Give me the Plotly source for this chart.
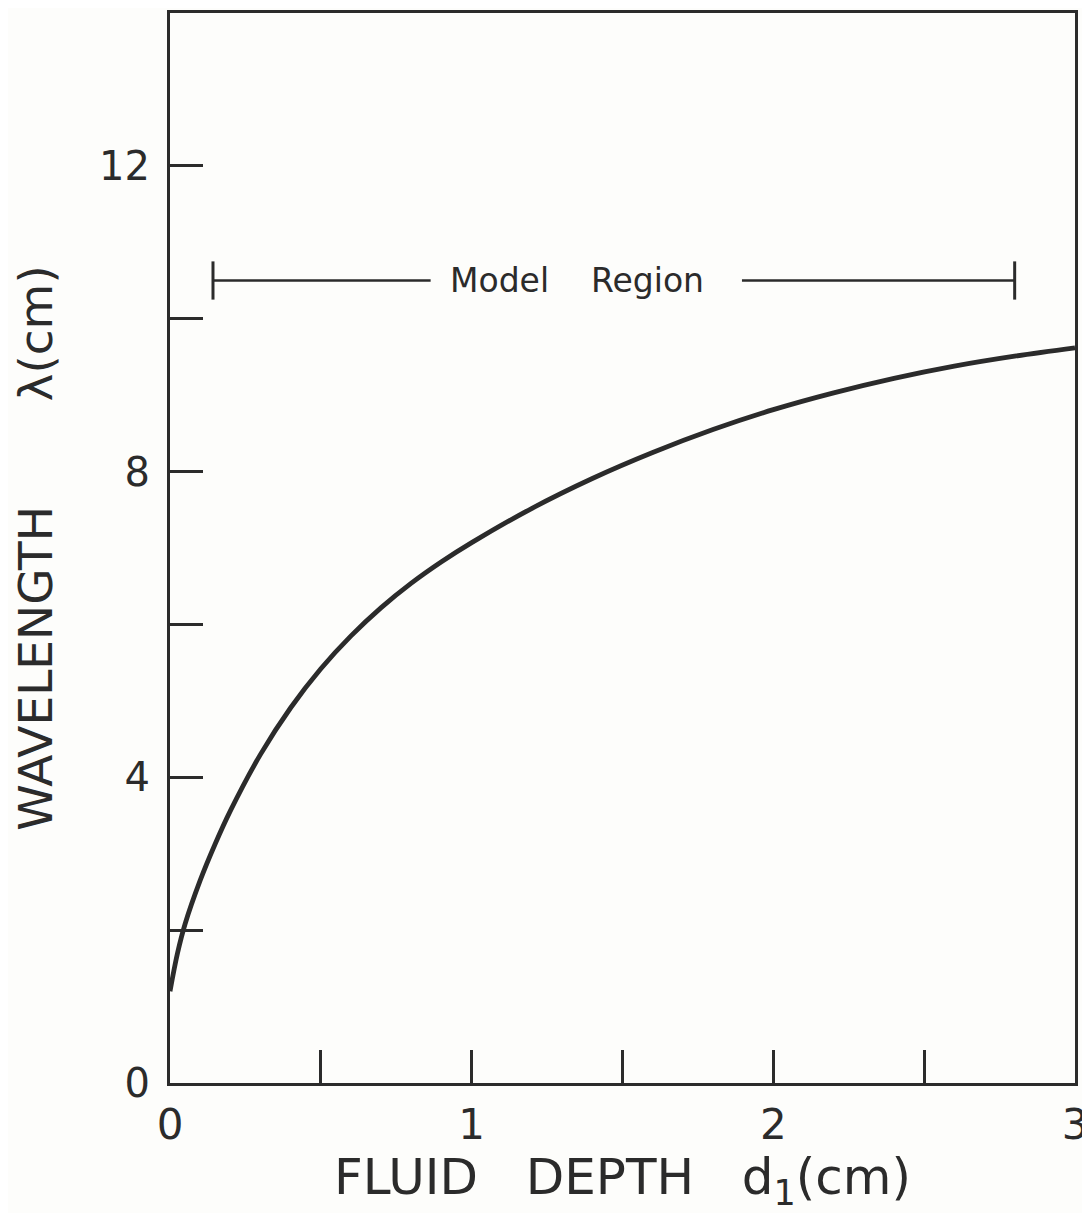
import plotly.graph_objects as go

# Curve: fluid depth d1 (cm) vs wavelength lambda (cm)
depth = [0.0, 0.025, 0.05, 0.1, 0.15, 0.2, 0.3, 0.4, 0.5, 0.6, 0.7, 0.8, 0.9, 1.0,
         1.2, 1.4, 1.6, 1.8, 2.0, 2.2, 2.4, 2.6, 2.8, 3.0]
wavelength = [1.2, 1.7, 2.08, 2.65, 3.13, 3.56, 4.30, 4.91, 5.42, 5.85, 6.22, 6.54, 6.82, 7.07,
              7.52, 7.91, 8.25, 8.55, 8.81, 9.03, 9.22, 9.38, 9.51, 9.62]

# Model region bracket (line broken around the label)
model_left_segment = [0.1425, 0.864]
model_right_segment = [1.896, 2.80]
model_region_y = 10.5
model_cap_half = 0.25
model_label_x = 1.349

x_major_ticks = [0, 1, 2, 3]
x_minor_ticks = [0.5, 1.5, 2.5]
y_major_ticks = [0, 4, 8, 12]
y_minor_ticks = [2, 6, 10]

ink = "#2b2b2b"
paper = "#fdfdfb"
font_family = "DejaVu Sans, Liberation Sans, sans-serif"

fig = go.Figure()

fig.add_trace(go.Scatter(
    x=depth, y=wavelength, mode="lines",
    line=dict(color=ink, width=4.8, shape="spline", smoothing=1.0),
    hoverinfo="skip", showlegend=False,
))

for seg in (model_left_segment, model_right_segment):
    fig.add_trace(go.Scatter(
        x=seg, y=[model_region_y, model_region_y], mode="lines",
        line=dict(color=ink, width=2.5), hoverinfo="skip", showlegend=False,
    ))
for xv in (model_left_segment[0], model_right_segment[1]):
    fig.add_trace(go.Scatter(
        x=[xv, xv], y=[model_region_y - model_cap_half, model_region_y + model_cap_half],
        mode="lines", line=dict(color=ink, width=3), hoverinfo="skip", showlegend=False,
    ))

fig.add_annotation(
    x=model_label_x, y=model_region_y, xref="x", yref="y",
    text="Model\u00a0\u00a0\u00a0\u00a0Region", showarrow=False,
    font=dict(family=font_family, size=33, color=ink),
)

fig.update_layout(
    width=1082, height=1205,
    margin=dict(l=162, r=15, t=2, b=130),
    paper_bgcolor=paper, plot_bgcolor=paper,
    font=dict(family=font_family, color=ink),
    showlegend=False,
)

tick_style = dict(ticks="inside", ticklen=33, tickwidth=3, tickcolor=ink)

fig.update_xaxes(
    range=[0, 3], tickmode="array", tickvals=x_major_ticks,
    minor=dict(tickmode="array", tickvals=x_minor_ticks, showgrid=False, **tick_style),
    showline=True, linecolor=ink, linewidth=3, mirror=True,
    showgrid=False, zeroline=False,
    tickfont=dict(size=42, family=font_family, color=ink),
    ticklabelstandoff=3, ticklabeloverflow="allow",
    title=dict(text="FLUID\u00a0\u00a0\u00a0DEPTH\u00a0\u00a0\u00a0d<sub>1</sub>(cm)",
               font=dict(size=50, family=font_family, color=ink), standoff=16),
    **tick_style,
)
fig.update_yaxes(
    range=[0, 14], tickmode="array", tickvals=y_major_ticks,
    minor=dict(tickmode="array", tickvals=y_minor_ticks, showgrid=False, **tick_style),
    showline=True, linecolor=ink, linewidth=3, mirror=True,
    showgrid=False, zeroline=False,
    tickfont=dict(size=40, family=font_family, color=ink),
    ticklabelstandoff=9,
    title=dict(text="WAVELENGTH\u00a0\u00a0\u00a0\u00a0\u00a0\u00a0\u00a0λ(cm)",
               font=dict(size=47, family=font_family, color=ink), standoff=32),
    **tick_style,
)

fig.write_html("out.html")
